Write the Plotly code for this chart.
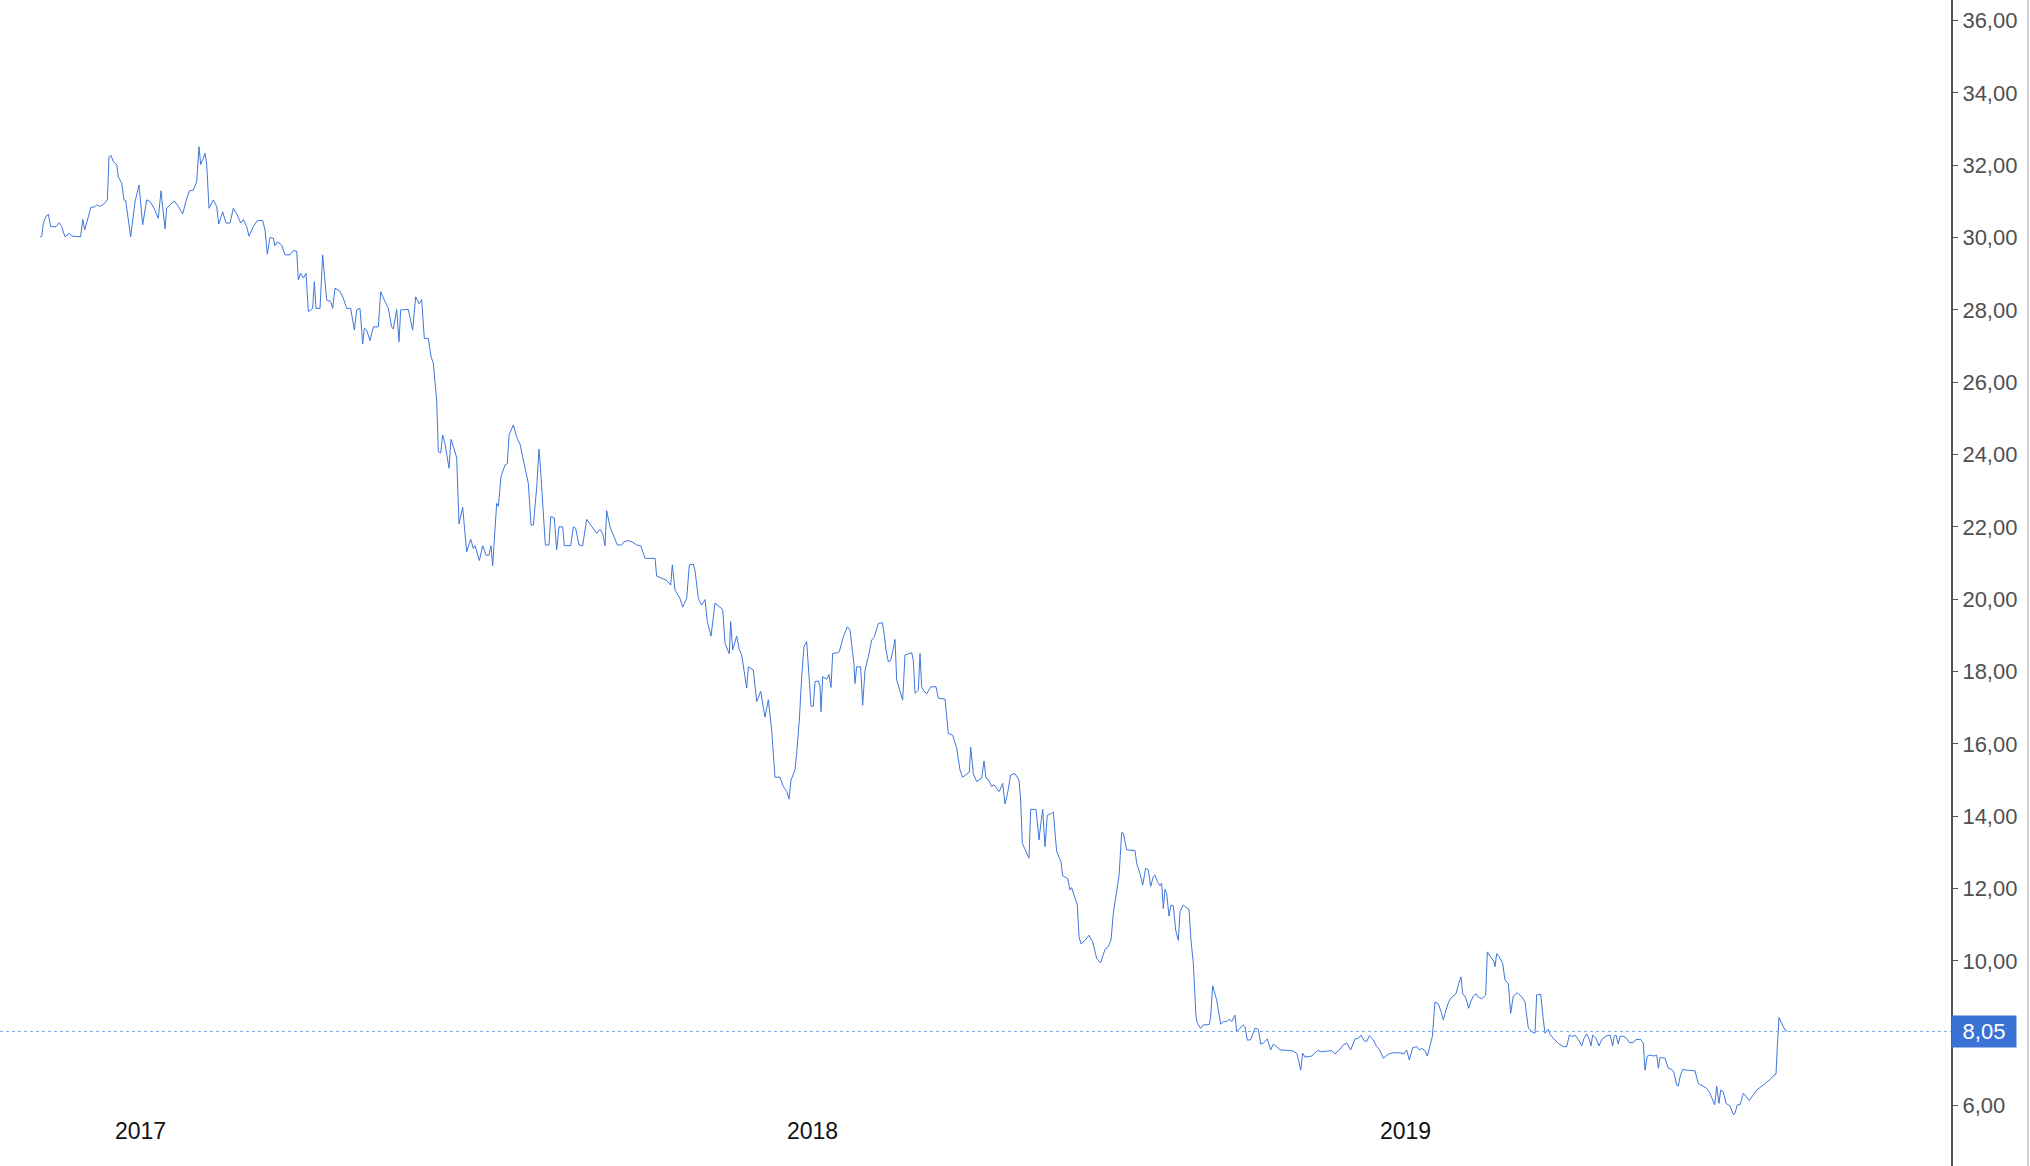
import plotly.graph_objects as go

# Trading-session index (x) and closing price (EUR)
session = [
    0.0, 0.67, 1.33, 2.4, 3.33, 4.27, 6.4, 7.73, 8.67, 10.0, 11.73, 12.67, 16.27, 17.07, 17.87, 19.33,
    20.4, 21.73, 22.67, 24.0, 25.6, 26.93, 27.33, 27.6, 28.27, 29.33, 30.67, 31.33, 32.67, 33.6, 34.27,
    36.27, 38.0, 39.6, 41.07, 42.67, 44.0, 45.6, 47.33, 48.4, 50.0, 50.67, 52.0, 53.73, 55.33, 57.07,
    58.4, 59.73, 61.33, 62.67, 63.6, 64.27, 65.33, 66.0, 66.67, 67.6, 69.33, 70.67, 71.47, 73.07, 74.4,
    76.0, 77.33, 78.93, 80.27, 81.33, 82.67, 83.6, 85.33, 86.93, 89.07, 90.0, 90.93, 92.0, 93.33, 94.0,
    94.93, 96.67, 98.0, 100.0, 101.33, 102.67, 103.33, 104.27, 105.33, 106.4, 107.33, 109.07, 109.73,
    110.4, 112.0, 113.07, 114.67, 116.27, 117.07, 118.0, 120.0, 121.33, 122.67, 124.27, 125.73, 126.67,
    128.0, 129.07, 129.73, 130.67, 132.0, 133.33, 135.33, 136.27, 138.0, 139.33, 140.67, 141.33, 142.67,
    143.6, 144.27, 147.33, 149.07, 150.27, 151.6, 152.67,
    153.73, 155.33, 156.4, 157.33, 158.67, 159.33, 160.27, 161.07, 162.0, 162.67, 163.6, 164.4, 165.33,
    166.67, 167.6, 169.07, 170.67, 172.27, 173.33, 174.0, 175.73, 177.07, 178.4, 179.6, 180.4, 181.07,
    182.67, 183.33, 184.4, 186.0, 186.93, 187.6, 189.33, 190.67, 192.0, 193.33, 195.33, 196.4, 197.33,
    198.67, 199.6, 200.27, 201.6, 202.13, 203.6, 204.27, 205.73, 206.67, 207.6, 209.07, 209.73, 212.27,
    213.33, 214.27, 215.6, 217.07, 218.67, 220.0, 222.67, 224.0, 225.07, 226.0, 226.67, 228.0, 229.33,
    230.93, 232.67, 233.6, 235.33, 236.67, 238.67, 240.27, 242.0, 246.0, 246.67, 248.67, 250.67, 252.27,
    252.93, 254.0,
    256.0, 257.07, 258.67, 259.73, 261.33, 262.0, 263.33, 264.67, 266.0, 266.93, 268.4, 270.0, 271.33,
    273.07, 274.0, 275.73, 276.27, 277.07, 278.67, 279.73, 280.67, 282.67, 283.33, 285.33, 286.67, 288.27,
    290.0, 291.33, 292.67, 294.0, 296.0, 297.33, 298.67, 299.6, 300.4, 302.0, 302.67, 303.73, 304.67,
    305.6, 306.67, 307.33, 308.4, 309.33, 310.0, 311.33, 312.0, 312.4, 313.07, 314.67, 315.6, 316.4,
    317.07, 318.93, 319.73, 321.33, 322.93, 324.0, 324.93, 325.6, 326.0, 326.67, 328.27, 329.07, 330.0,
    331.33, 332.67, 333.73, 335.33, 336.93, 337.6, 338.4, 339.33, 340.27, 341.07, 342.0, 342.67, 344.0,
    345.07, 346.0, 348.67, 349.33, 350.0, 351.33, 352.0, 352.67, 353.33, 354.67, 356.27, 358.4, 359.33,
    362.0, 363.33, 365.07, 366.67, 368.0, 369.07, 370.4, 371.73, 372.27, 373.33, 374.67, 376.67, 377.6,
    378.4, 379.33, 380.67, 381.6, 382.67, 383.6,
    384.0, 385.07, 386.0, 386.93, 388.27, 390.0, 391.6, 392.27, 392.93, 394.0, 395.6, 396.27, 398.4,
    398.93, 399.6, 400.27, 401.07, 402.0, 402.93, 404.67, 405.33, 406.67, 408.4, 409.07, 411.07, 412.0,
    412.67, 413.6, 414.93, 415.6, 416.4, 418.0, 419.6, 421.07, 422.67, 424.27, 426.0, 427.33, 428.4,
    429.33, 430.67, 431.6, 432.67, 433.33, 434.67, 438.0, 438.67, 440.0, 441.07, 442.27, 443.33, 444.27,
    445.33, 446.0, 446.93, 448.0, 448.67, 449.33, 450.0, 450.67, 451.6, 452.4, 453.33, 454.27, 455.33,
    456.0, 457.33, 458.27, 459.6, 460.4, 461.33,
    462.4, 462.93, 464.27, 465.33, 467.73, 468.27, 469.07, 470.67, 472.27, 473.33, 474.67, 475.73,
    476.67, 478.0, 478.67, 480.0, 481.33, 482.0, 482.93, 484.27, 486.0, 487.33, 488.27, 489.33, 490.93,
    492.27, 493.33, 494.67, 496.0, 500.67, 502.67, 503.33, 504.27, 505.07, 506.0, 508.67, 510.93, 512.67,
    516.67, 518.0, 519.73, 521.33, 522.67, 524.27, 526.0, 527.33, 528.4, 529.6, 530.67, 531.73, 533.33,
    534.67, 535.73, 537.33, 539.33, 541.33, 544.0, 545.6, 546.67, 547.73, 549.07, 550.67, 551.73, 552.67,
    554.0, 554.93, 556.0, 556.93, 558.0, 559.33, 560.4, 561.33, 562.0, 563.33, 564.27, 565.33, 566.4,
    567.33, 568.4, 569.07, 570.4, 571.47, 572.27, 573.33, 574.4, 575.33, 576.67, 578.27, 578.93, 580.27,
    581.6, 582.0, 582.67, 583.73, 585.07, 586.0, 587.33, 588.27, 589.33, 590.93, 592.67, 594.0, 595.33,
    596.67, 598.0, 598.67, 600.27, 601.33, 602.0, 603.33,
    604.0, 605.33, 607.33, 609.33, 610.67, 611.73, 613.07, 614.0, 615.33, 616.67, 617.6, 618.67, 619.73,
    620.4, 621.07, 622.4, 623.6, 624.67, 626.4, 628.0, 629.07, 629.6, 630.4, 631.33, 632.0, 633.33,
    634.67, 635.73, 637.33, 638.4, 640.27, 641.33, 642.0, 642.93, 644.0, 645.6, 646.67, 647.33, 648.0,
    650.0, 651.33, 652.67, 653.6, 654.67, 655.33, 656.0, 657.07, 658.67, 662.0, 663.33, 665.33, 666.67,
    668.0, 669.07, 669.87, 670.67, 671.6, 672.27, 673.33, 674.4, 676.0, 677.33, 678.0, 678.93, 680.0,
    681.33, 682.4, 683.73, 685.33, 686.67, 688.0, 689.33, 690.67, 692.0, 693.33, 694.4, 694.93, 695.6,
    696.67, 698.0, 698.93,
]

price = [
    30.02, 30.03, 30.39, 30.59, 30.64, 30.30, 30.30, 30.41, 30.30, 30.02, 30.12, 30.04, 30.02, 30.50, 30.21, 30.56,
    30.84, 30.84, 30.90, 30.86, 30.93, 31.04, 31.64, 32.23, 32.28, 32.10, 32.02, 31.68, 31.50, 31.04, 31.02,
    30.02, 30.99, 31.45, 30.35, 31.04, 31.00, 30.81, 30.53, 31.29, 30.24, 30.81, 30.90, 31.01, 30.86, 30.65,
    31.01, 31.29, 31.31, 31.54, 32.51, 32.02, 32.19, 32.33, 32.05, 30.81, 31.04, 30.86, 30.37, 30.71, 30.40,
    30.40, 30.81, 30.62, 30.40, 30.50, 30.30, 30.04, 30.30, 30.47, 30.47, 30.21, 29.54, 30.00, 29.98, 29.77,
    29.88, 29.79, 29.52, 29.52, 29.64, 29.62, 28.83, 29.01, 28.88, 29.01, 27.95, 28.04, 28.78,
    28.04, 28.04, 29.52, 28.27, 28.23, 28.04, 28.60, 28.51, 28.32, 28.04, 28.04, 27.44, 28.00,
    28.04, 27.06, 27.49, 27.44, 27.15, 27.53, 27.53, 28.50, 28.23, 28.04, 27.53, 27.47, 28.01,
    27.12, 28.00, 28.01, 27.44, 28.36, 28.17, 28.29,
    27.21, 27.21, 26.71, 26.52, 25.51, 24.08, 24.04, 24.54, 24.30, 24.03, 23.62, 24.42, 24.21,
    23.92, 22.08, 22.54, 21.31, 21.66, 21.40, 21.48, 21.07, 21.48, 21.22, 21.22, 21.48, 20.92,
    22.65, 22.57, 23.39, 23.71, 23.75, 24.54, 24.82, 24.48, 24.29, 23.89, 23.20, 22.05, 22.05,
    23.07, 24.15, 23.55, 22.28, 21.50, 21.50, 22.28, 22.25, 21.36, 22.00, 22.00, 21.48, 21.48,
    22.00, 21.96, 21.50, 21.48, 22.21, 22.09, 21.82, 21.93, 21.82, 21.48, 22.45, 22.00, 21.75,
    21.50, 21.50, 21.59, 21.62, 21.59, 21.50, 21.48, 21.13, 21.13, 20.64, 20.58, 20.52, 20.39,
    20.95, 20.25,
    20.02, 19.78, 20.02, 20.95, 20.97, 20.80, 20.02, 19.84, 19.99, 19.38, 18.98, 19.89, 19.82,
    19.72, 18.78, 18.49, 19.38, 18.60, 18.98, 18.60, 18.46, 17.54, 18.13, 18.04, 17.17, 17.45,
    16.74, 17.22, 16.38, 15.08, 15.08, 14.82, 14.69, 14.47, 15.00, 15.28, 15.74, 16.66, 17.86,
    18.69, 18.83, 18.10, 17.05, 17.04, 17.72, 17.74, 17.60, 16.89, 17.86, 17.79, 17.92, 17.56,
    18.50, 18.52, 18.55, 18.96, 19.24, 19.15, 18.64, 18.20, 17.67, 18.13, 18.13, 17.07, 18.04,
    18.41, 18.87, 18.96, 19.33, 19.35, 19.07, 18.60, 18.27, 18.31, 18.55, 18.89, 17.77, 17.45,
    17.21, 18.46, 18.52, 18.31, 17.40, 17.49, 18.50, 17.58, 17.49, 17.38, 17.58, 17.58, 17.26,
    17.24, 16.29, 16.24, 15.88, 15.28, 15.08, 15.15, 15.22, 15.91, 15.17, 14.96, 15.05, 15.53,
    15.05, 15.02, 14.82, 14.87, 14.78, 14.68,
    14.73, 14.91, 14.34, 14.60, 15.14, 15.18, 15.00, 14.45, 13.25, 13.07, 12.84, 14.19, 14.19,
    13.85, 13.34, 13.76, 14.19, 13.16, 14.03, 14.08, 14.12, 13.02, 12.74, 12.35, 12.28, 11.96,
    12.03, 11.82, 11.55, 10.67, 10.47, 10.57, 10.71, 10.53, 10.07, 9.95, 10.32, 10.40, 10.58,
    11.32, 11.87, 12.35, 13.55, 13.53, 13.07, 13.05, 12.70, 12.42, 12.10, 12.56, 12.52, 12.06,
    12.33, 12.38, 12.20, 12.08, 12.15, 11.45, 11.98, 11.87, 11.24, 11.55, 11.52, 10.85, 10.57,
    11.36, 11.55, 11.48, 11.43, 10.57, 9.93,
    8.46, 8.28, 8.14, 8.23, 8.24, 8.46, 9.31, 8.92, 8.25, 8.32, 8.32, 8.39,
    8.32, 8.50, 8.04, 8.14, 8.23, 8.18, 7.81, 7.82, 8.14, 8.11, 7.70, 7.73, 7.84,
    7.54, 7.70, 7.63, 7.54, 7.52, 7.45, 7.28, 6.98, 7.45, 7.34, 7.37, 7.52, 7.49,
    7.52, 7.43, 7.54, 7.68, 7.73, 7.54, 7.84, 7.86, 7.95, 7.80, 7.77, 7.93, 7.82,
    7.63, 7.56, 7.31, 7.42, 7.46, 7.46, 7.43, 7.54, 7.26, 7.60, 7.63, 7.54, 7.58,
    7.52, 7.37, 7.63, 7.90, 8.87, 8.81, 8.60, 8.37, 8.55, 8.84, 8.97, 9.03, 9.09,
    9.33, 9.56, 9.10, 8.97, 8.69, 8.87, 9.03, 9.09, 9.00, 8.95, 9.06, 10.25, 10.11,
    9.98, 9.84, 10.20, 10.11, 9.93, 9.47, 9.38, 8.55, 9.03, 9.12, 9.01, 8.87, 8.14,
    8.04, 8.00, 9.06, 9.08, 8.37, 8.00, 8.11,
    7.97, 7.86, 7.72, 7.63, 7.63, 7.95, 7.91, 7.95, 7.83, 7.65, 7.86, 7.98, 7.83,
    7.65, 7.95, 7.86, 7.65, 7.83, 7.92, 7.95, 7.65, 7.91, 7.95, 7.70, 7.91, 7.92,
    7.86, 7.74, 7.74, 7.83, 7.83, 7.72, 6.98, 7.37, 7.40, 7.37, 7.40, 7.03, 7.33,
    7.31, 7.03, 7.00, 6.91, 6.57, 6.54, 6.79, 7.00, 6.98, 6.96, 6.61, 6.54, 6.48,
    6.34, 6.16, 6.02, 6.54, 6.06, 6.43, 6.38, 6.06, 5.99, 5.75, 5.79, 6.02, 6.02,
    6.34, 6.25, 6.14, 6.30, 6.43, 6.50, 6.57, 6.66, 6.72, 6.83, 6.87, 7.63, 8.44,
    8.27, 8.09, 8.05,
]

year_labels = ["2017", "2018", "2019"]
year_sessions = [40, 308.8, 546]
price_ticks = [6, 10, 12, 14, 16, 18, 20, 22, 24, 26, 28, 30, 32, 34, 36]
last_price = price[-1]

LINE_BLUE = "#3f76dc"
FONT = "Liberation Sans, Arial, Helvetica, sans-serif"

fig = go.Figure()
fig.add_trace(go.Scatter(
    x=session, y=price, mode="lines",
    line=dict(color=LINE_BLUE, width=1),
    hoverinfo="skip", showlegend=False,
))

# dotted line at the last price
fig.add_shape(type="line", xref="paper", yref="y", x0=0, x1=1,
              y0=last_price, y1=last_price,
              line=dict(color="#7ea3e6", width=1, dash="dot"))

# light border at the far right of the page
fig.add_shape(type="line", xref="paper", yref="paper", x0=1.0395, x1=1.0395,
              y0=0, y1=1, line=dict(color="#d0d0d0", width=2))

# last price tag on the axis
fig.add_annotation(
    xref="paper", yref="y", x=1, y=last_price, xanchor="left", yanchor="middle",
    text=f"{last_price:.2f}".replace(".", ","), showarrow=False,
    font=dict(family=FONT, size=22, color="white"),
    bgcolor="#3a72d6", width=60, height=27, borderpad=2, align="center", valign="middle",
)

for lab, s in zip(year_labels, year_sessions):
    fig.add_annotation(
        xref="x", yref="paper", x=s, y=0.0297, text=lab, showarrow=False,
        xanchor="center", yanchor="middle",
        font=dict(family=FONT, size=23, color="#111111"),
    )

fig.update_layout(
    width=2030, height=1166,
    margin=dict(l=0, r=79, t=0, b=0),
    paper_bgcolor="white", plot_bgcolor="white",
    separators=",.",
    showlegend=False,
    font=dict(family=FONT),
    xaxis=dict(range=[-16, 764.4], showgrid=False, zeroline=False,
               showticklabels=False, showline=False, ticks=""),
    yaxis=dict(range=[4.33, 36.567], side="right", showgrid=False, zeroline=False,
               showline=True, linecolor="#555555", linewidth=2,
               ticks="outside", ticklen=5, tickcolor="#555555", tickwidth=1,
               tickvals=price_ticks, tickformat=".2f",
               tickfont=dict(family=FONT, size=22, color="#505050")),
)

fig.write_html("out.html", config={"displayModeBar": False},
               post_script="document.body.style.margin='0';document.body.style.overflow='hidden';")
